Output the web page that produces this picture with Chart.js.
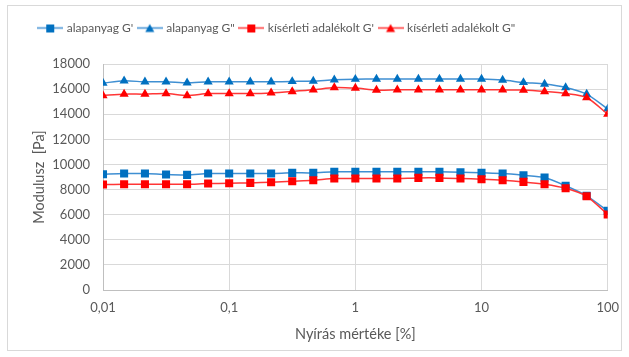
<!DOCTYPE html>
<html><head><meta charset="utf-8">
<script src="https://cdn.jsdelivr.net/npm/chart.js@4"></script>
<style>html,body{margin:0;padding:0;background:#fff;}#wrap{width:629px;height:357px;position:relative;}</style>
</head><body><div id="wrap"><canvas id="c" width="629" height="357"></canvas></div>
<script>
const shearRates = [0.01, 0.0147, 0.0215, 0.0316, 0.0464, 0.0681, 0.1, 0.147, 0.215, 0.316, 0.464, 0.681, 1, 1.47, 2.15, 3.16, 4.64, 6.81, 10, 14.7, 21.5, 31.6, 46.4, 68.1, 100];
const alapG1 = [9220, 9280, 9280, 9200, 9170, 9280, 9280, 9280, 9280, 9330, 9330, 9410, 9410, 9410, 9410, 9410, 9410, 9380, 9330, 9280, 9140, 8960, 8300, 7500, 6300];
const alapG2 = [16480, 16660, 16580, 16580, 16500, 16580, 16580, 16580, 16580, 16610, 16640, 16740, 16790, 16800, 16800, 16800, 16800, 16800, 16800, 16720, 16530, 16400, 16130, 15600, 14420];
const kisG1 = [8400, 8420, 8420, 8420, 8420, 8480, 8500, 8530, 8580, 8660, 8740, 8880, 8880, 8880, 8880, 8930, 8930, 8880, 8820, 8740, 8610, 8420, 8100, 7460, 6020];
const kisG2 = [15490, 15600, 15600, 15650, 15490, 15650, 15650, 15650, 15700, 15810, 15940, 16130, 16080, 15920, 15940, 15940, 15940, 15940, 15940, 15940, 15920, 15810, 15650, 15330, 14000];
const seriesNames = ["alapanyag G'", "alapanyag G\"", "kísérleti adalékolt G'", "kísérleti adalékolt G\""];
const xTickValues = [0.01, 0.1, 1, 10, 100];
const xTickLabels = ["0,01", "0,1", "1", "10", "100"];
const yTickStep = 2000, yMin = 0, yMax = 18000;

const FONT = "Lato, sans-serif";
const TXT = '#595959';
const BLUE = '#0070C0', BLUE_LINE = '#3f8fd2';
const RED = '#FF0000', RED_LINE = '#ff3636';

function legendIcon(lineColor, markColor, shape) {
  const c = document.createElement('canvas');
  c.width = 26; c.height = 11;
  const g = c.getContext('2d');
  g.strokeStyle = lineColor; g.lineWidth = 1.5;
  g.beginPath(); g.moveTo(0, 5.5); g.lineTo(26, 5.5); g.stroke();
  g.fillStyle = markColor;
  if (shape === 'rect') { g.fillRect(9, 2, 8, 8); }
  else { g.beginPath(); g.moveTo(13, 1.5); g.lineTo(17.5, 9.5); g.lineTo(8.5, 9.5); g.closePath(); g.fill(); }
  return c;
}

function mk(name, data, lineColor, markColor, shape, order) {
  return {
    label: name,
    data: data.map((v, i) => ({x: shearRates[i], y: v})),
    borderColor: lineColor, backgroundColor: markColor,
    pointBackgroundColor: markColor, pointBorderColor: markColor,
    pointStyle: shape, pointRadius: shape === 'rect' ? 5.7 : 5.3, pointBorderWidth: 0,
    borderWidth: 1.5, tension: 0.25, order: order,
    legendIcon: legendIcon(lineColor, markColor, shape)
  };
}

const frame = {
  id: 'frame',
  beforeLayout(chart) {
    const lg = chart.legend;
    if (lg && !lg._patched) {
      const f = lg.fit.bind(lg);
      lg.fit = function () { f(); this.height += 20; };
      lg._patched = true;
    }
  },
  afterLayout(chart) {
    const lg = chart.legend; if (lg) { lg.left -= 34; lg.right -= 34; }
  },
  beforeDraw(chart) {
    const g = chart.ctx; g.save();
    g.strokeStyle = '#d9d9d9'; g.lineWidth = 1;
    g.strokeRect(7.5, 5.5, 614, 345);
    g.restore();
  }
};

new Chart(document.getElementById('c'), {
  type: 'line',
  data: { datasets: [
    mk(seriesNames[0], alapG1, BLUE_LINE, BLUE, 'rect', 2),
    mk(seriesNames[1], alapG2, BLUE_LINE, BLUE, 'triangle', 2),
    mk(seriesNames[2], kisG1, RED_LINE, RED, 'rect', 1),
    mk(seriesNames[3], kisG2, RED_LINE, RED, 'triangle', 1)
  ]},
  options: {
    responsive: false, animation: false, devicePixelRatio: 1,
    layout: { padding: { left: 8, right: 14, top: 16, bottom: 14 } },
    plugins: {
      legend: {
        position: 'top',
        labels: {
          usePointStyle: true, pointStyleWidth: 21, padding: 6,
          font: { family: FONT, size: 12 }, color: TXT,
          generateLabels(chart) {
            return chart.data.datasets.map((ds, i) => ({
              text: ds.label, pointStyle: ds.legendIcon, fillStyle: ds.backgroundColor,
              strokeStyle: ds.borderColor, lineWidth: 0, datasetIndex: i, fontColor: TXT
            }));
          }
        }
      },
      tooltip: { enabled: false }
    },
    scales: {
      x: {
        type: 'logarithmic', min: 0.01, max: 100,
        afterBuildTicks(s) { s.ticks = xTickValues.map(v => ({value: v})); },
        afterFit(s) { s.height = 53; },
        ticks: {
          autoSkip: false, maxRotation: 0, padding: 10, color: TXT,
          font: { family: FONT, size: 13 },
          callback(v) { const i = xTickValues.indexOf(v); return i >= 0 ? xTickLabels[i] : ''; }
        },
        grid: { color: '#d9d9d9', drawTicks: false },
        border: { color: '#bfbfbf' },
        title: { display: true, text: 'Nyírás mértéke [%]', color: TXT, font: { family: FONT, size: 14.5 }, padding: { top: 6, bottom: 0 } }
      },
      y: {
        min: yMin, max: yMax,
        afterFit(s) { s.width = 95; },
        ticks: { stepSize: yTickStep, padding: 13, color: TXT, font: { family: FONT, size: 13 },
          callback(v) { return String(v); } },
        grid: { color: '#d9d9d9', drawTicks: false },
        border: { color: '#bfbfbf' },
        title: { display: true, text: 'Modulusz  [Pa]', color: TXT, font: { family: FONT, size: 14.5 }, padding: { top: 23, bottom: 0 } }
      }
    }
  },
  plugins: [frame]
});
</script></body></html>
